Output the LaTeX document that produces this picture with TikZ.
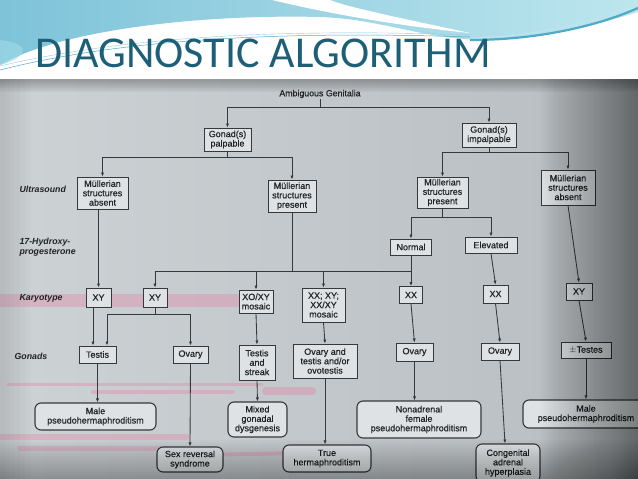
\documentclass[tikz,border=0pt]{standalone}
\usepackage{fontspec}
\setmainfont{Liberation Sans}
\newfontfamily\titlefont{Carlito}
\newfontfamily\boxfont{Liberation Sans}[FakeBold=0.6]
\usetikzlibrary{arrows.meta}
\definecolor{bgl}{HTML}{CDD2D5}
\definecolor{bgr}{HTML}{B7BDC1}
\definecolor{boxfill}{HTML}{DEE2E4}
\definecolor{ink}{HTML}{36393C}
\definecolor{txt}{HTML}{222426}
\definecolor{titlecol}{HTML}{1D5F76}
\definecolor{hblue}{HTML}{7EC3D9}
\definecolor{hblue2}{HTML}{9DD8E6}
\definecolor{hcyan}{HTML}{BDE6EE}
\definecolor{hline}{HTML}{4FA9C8}
\definecolor{pinkhl}{HTML}{E8799F}
\begin{document}
\begin{tikzpicture}[x=1pt,y=-1pt,
  box/.style={draw=ink, fill=boxfill, line width=0.85pt, inner sep=1pt, align=center, text=txt,
              font=\boxfont\fontsize{9}{9.4}\selectfont},
  oval/.style={box, rounded corners=6pt, line width=1.1pt},
  lab/.style={anchor=west, font=\fontsize{8.8}{9.8}\selectfont\bfseries\itshape, text=txt, align=left},
  con/.style={draw=ink, line width=0.85pt},
  arr/.style={con, -{Latex[length=4pt,width=3.2pt]}},
  hl/.style={pinkhl, line cap=round, opacity=0.33}
]
\useasboundingbox (0,0) rectangle (638,479);
\clip (0,0) rectangle (638,479);

% ---- header ----
\fill[white] (0,0) rectangle (638,80);
\shade[left color=hblue, right color=hcyan]
  (0,0) -- (638,0) -- (638,12) .. controls (580,30) and (530,40) .. (480,40)
  .. controls (420,38) and (380,19) .. (320,17)
  .. controls (200,14) and (60,30) .. (0,65) -- cycle;
\fill[hblue2, opacity=0.7] (0,40) .. controls (40,45) and (20,60) .. (0,65) -- cycle;
\fill[white] (272,0) .. controls (330,14) and (400,26) .. (470,33)
  .. controls (410,20) and (350,8) .. (330,0) -- cycle;
\draw[hline, line width=0.5pt] (0,70) .. controls (110,42) and (260,30) .. (470,37);
\draw[hline!60, line width=0.4pt] (0,66) .. controls (120,38) and (270,28) .. (470,35);
\draw[hline, line width=2.2pt] (470,40) .. controls (540,40) and (600,25) .. (638,8);
\draw[hcyan, line width=1pt] (470,38) .. controls (540,37) and (600,20) .. (638,4);

\node[anchor=base west, inner sep=0pt, font=\titlefont\fontsize{44}{48}\selectfont, text=titlecol]
  (title) at (35,67) {DIAGNOSTIC ALGORITHM};

% ---- photo background ----
\shade[left color=bgl, right color=bgr] (0,79) rectangle (638,479);

% highlighter marks
\draw[hl, line width=13pt] (-5,300) -- (236,300);
\draw[hl, line width=3pt] (8,384) -- (262,384);
\draw[hl, line width=4pt] (93,392) -- (233,392);
\draw[hl, line width=8pt] (266,391) -- (312,391);
\draw[hl, line width=6pt] (-5,437) -- (187,437);
\draw[hl, line width=5pt] (20,448) -- (167,448);
\draw[hl, line width=4pt] (200,455) -- (300,453);

% ---- row labels ----
\node[lab] (lus) at (16,189) {Ultrasound};
\node[lab] (lhp) at (16,247) {17-Hydroxy-\\progesterone};
\node[lab] (lka) at (16,298) {Karyotype};
\node[lab] (lgo) at (11,356) {Gonads};

% ---- nodes ----
\node[align=center, text=txt, font=\boxfont\fontsize{8.8}{9}\selectfont, inner sep=1pt] (amb) at (320,94) {Ambiguous Genitalia};

\node[box, minimum width=47pt, minimum height=23pt] (gp) at (227.5,139.5) {Gonad(s)\\palpable};
\node[box, minimum width=54pt, minimum height=24pt] (gi) at (489,135) {Gonad(s)\\impalpable};

\node[box, minimum width=51pt, minimum height=32pt] (mal) at (102.5,193) {Müllerian\\structures\\absent};
\node[box, minimum width=48pt, minimum height=32pt] (mpl) at (292,196) {Müllerian\\structures\\present};
\node[box, minimum width=51pt, minimum height=31pt] (mpr) at (442.5,192.5) {Müllerian\\structures\\present};
\node[box, minimum width=54pt, minimum height=35pt] (mar) at (568,187.5) {Müllerian\\structures\\absent};

\node[box, minimum width=41pt, minimum height=16pt] (norm) at (411,247) {Normal};
\node[box, minimum width=52pt, minimum height=16pt] (elev) at (491,245) {Elevated};

\node[box, minimum width=25pt, minimum height=19pt] (k1) at (98.5,297.5) {XY};
\node[box, minimum width=24pt, minimum height=19pt] (k2) at (155,297.5) {XY};
\node[box, minimum width=34pt, minimum height=23pt] (k3) at (256,301.5) {XO/XY\\mosaic};
\node[box, minimum width=43pt, minimum height=34pt] (k4) at (323.5,305) {XX; XY;\\XX/XY\\mosaic};
\node[box, minimum width=23pt, minimum height=17pt] (k5) at (411,295) {XX};
\node[box, minimum width=25pt, minimum height=18pt] (k6) at (495.5,294) {XX};
\node[box, minimum width=26pt, minimum height=17pt] (k7) at (579,291.5) {XY};

\node[box, minimum width=37pt, minimum height=17pt] (g1) at (97.5,354.5) {Testis};
\node[box, minimum width=35pt, minimum height=17pt] (g2) at (190.5,354.5) {Ovary};
\node[box, minimum width=36pt, minimum height=35pt] (g3) at (257,362.5) {Testis\\and\\streak};
\node[box, minimum width=64pt, minimum height=34pt] (g4) at (325,361) {Ovary and\\testis and/or\\ovotestis};
\node[box, minimum width=37pt, minimum height=18pt] (g5) at (414.5,352) {Ovary};
\node[box, minimum width=38pt, minimum height=17pt] (g6) at (500,351.5) {Ovary};
\node[box, minimum width=50pt, minimum height=16pt] (g7) at (586,350) {$\pm$Testes};

\node[oval, minimum width=121pt, minimum height=27pt] (o1) at (95.5,416.5) {Male\\pseudohermaphroditism};
\node[oval, minimum width=66pt, minimum height=25pt] (o2) at (190,459.5) {Sex reversal\\syndrome};
\node[oval, minimum width=59pt, minimum height=35pt] (o3) at (257.5,419.5) {Mixed\\gonadal\\dysgenesis};
\node[oval, minimum width=88pt, minimum height=27pt] (o4) at (327,458.5) {True\\hermaphroditism};
\node[oval, minimum width=124pt, minimum height=37pt] (o5) at (419,419.5) {Nonadrenal\\female\\pseudohermaphroditism};
\node[oval, minimum width=64pt, minimum height=38pt] (o6) at (508,463) {Congenital\\adrenal\\hyperplasia};
\node[oval, minimum width=126pt, minimum height=28pt] (o7) at (586,414) {Male\\pseudohermaphroditism};

% ---- connectors ----
\coordinate (j0) at (320,107);
\draw[con] (amb.south) -- (j0);
\draw[arr] (j0) -| (gp.north);
\draw[arr] (j0) -| (gi.north);

\coordinate (j1) at (227.5,157);
\draw[con] (gp.south) -- (j1);
\draw[arr] (j1) -| (mal.north);
\draw[arr] (j1) -| (mpl.north);

\coordinate (j2) at (489,152);
\draw[con] (gi.south) -- (j2);
\draw[arr] (j2) -| (mpr.north);
\draw[arr] (j2) -| (mar.north);

\draw[arr] (k1.north |- mal.south) -- (k1.north);

\coordinate (j5) at (442.5,217);
\draw[con] (mpr.south) -- (j5);
\draw[arr] (j5) -| (norm.north);
\draw[arr] (j5) -| (elev.north);

\coordinate (j3) at (292,271);
\coordinate (j4) at (411,271);
\draw[con] (mpl.south) -- (j3);
\draw[con] (norm.south) -- (j4);
\draw[con] (k2.north |- j3) -- (j4);
\draw[arr] (k2.north |- j3) -- (k2.north);
\draw[arr] (k3.north |- j3) -- (k3.north);
\draw[arr] (k4.north |- j3) -- (k4.north);
\draw[arr] (j4) -- (k5.north);

\draw[arr] (elev.south) -- (k6.north);
\draw[arr] (mar.south) -- (k7.north);

\draw[arr] ([xshift=-5.5pt]k1.south) -- ([xshift=-5.5pt]k1.south |- g1.north);
\coordinate (j6) at (155,314);
\draw[con] (k2.south) -- (j6);
\draw[arr] (j6) -| ([xshift=9.5pt]g1.north);
\draw[arr] (j6) -| (g2.north);
\draw[arr] (k3.south) -- (g3.north);
\draw[arr] (k4.south) -- (g4.north);
\draw[arr] (k5.south) -- (g5.north);
\draw[arr] (k6.south) -- (g6.north);
\draw[arr] (k7.south) -- (g7.north);

\draw[arr] (g1.south) -- (g1.south |- o1.north);
\draw[arr] (g2.south) -- (o2.north);
\draw[arr] (g3.south) -- (o3.north);
\draw[arr] (g4.south) -- (g4.south |- o4.north);
\draw[arr] (g5.south) -- (g5.south |- o5.north);
\draw[arr] (g6.south) -- ([xshift=-3pt]o6.north);
\draw[arr] (g7.south) -- (o7.north);

% ---- vignette ----
\foreach \i in {0,...,39} \fill[black, opacity=0.011] ({540+2.5*\i},79) rectangle (638,479);
\foreach \i in {0,...,19} \fill[black, opacity=0.014] (0,{440+2*\i}) rectangle (638,479);
\foreach \i in {0,...,5} \fill[black, opacity=0.045] (0,79) rectangle (638,{92-2*\i});
\foreach \i in {0,...,5} \fill[black, opacity=0.015] (0,79) rectangle ({30-5*\i},479);
\end{tikzpicture}
\end{document}
